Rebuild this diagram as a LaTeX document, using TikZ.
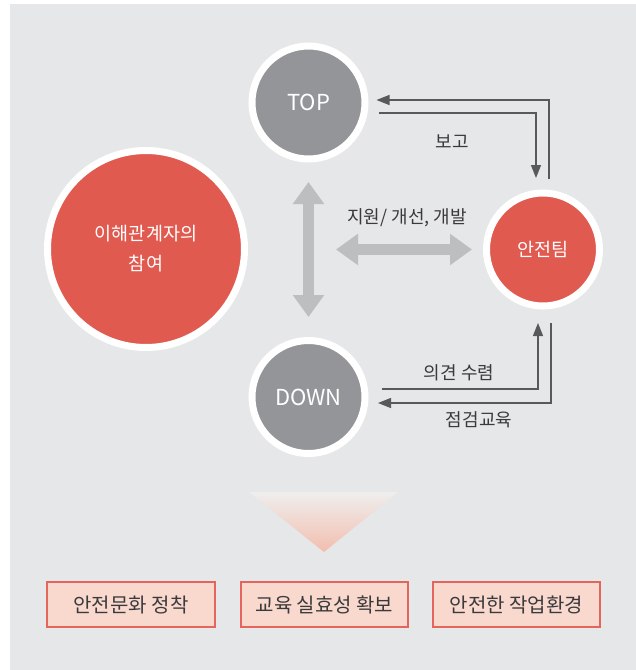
\documentclass[tikz,border=0pt]{standalone}
\usepackage{fontspec}
\setmainfont{Noto Sans CJK KR}
\usetikzlibrary{arrows.meta}
\definecolor{bggray}{HTML}{E6E7E8}
\definecolor{circgray}{HTML}{939598}
\definecolor{circred}{HTML}{E05A50}
\definecolor{arrgray}{HTML}{58595B}
\definecolor{biggray}{HTML}{BCBEC0}
\definecolor{txtdark}{HTML}{3A3A3C}
\definecolor{boxfill}{HTML}{F9D8CE}
\definecolor{boxline}{HTML}{E3655B}
\definecolor{tritop}{HTML}{EFEEEE}
\definecolor{tribot}{HTML}{F2BEAE}
\tikzset{
  ringgray/.style={circle, fill=circgray, draw=white, line width=7pt, minimum size=113pt, inner sep=0pt, outer sep=0pt, text=white, font=\fontsize{22}{24}\selectfont},
  ringred/.style={circle, fill=circred, draw=white, line width=7pt, minimum size=113pt, inner sep=0pt, outer sep=0pt, text=white, font=\fontsize{18.5}{21}\selectfont},
  bigred/.style={circle, fill=circred, draw=white, line width=7pt, minimum size=197pt, inner sep=0pt, outer sep=0pt, text=white, align=center, font=\fontsize{18.5}{30}\selectfont},
  conn/.style={draw=arrgray, line width=1.3pt, -{Triangle[length=13pt,width=10pt]}},
  bigarrow/.style={draw=biggray, line width=10.5pt, {Triangle[length=22pt,width=30pt]}-{Triangle[length=22pt,width=30pt]}},
  lbl/.style={text=txtdark, font=\fontsize{18}{20}\selectfont, inner sep=0pt},
  resultbox/.style={rectangle, fill=boxfill, draw=boxline, line width=1.3pt, minimum width=168pt, minimum height=45pt, inner sep=0pt, text=txtdark, font=\fontsize{20}{22}\selectfont}
}
\begin{document}
\begin{tikzpicture}[x=1pt,y=-1pt]
\useasboundingbox (0,0) rectangle (636,670);
\fill[white] (0,0) rectangle (636,670);
\fill[bggray] (10,4) rectangle (636,670);

\node[ringgray] (top) at (308.5,102.5) {TOP};
\node[ringgray] (down) at (308.5,397) {DOWN};
\node[ringred] (safe) at (543,249.5) {안전팀};
\node[bigred] (stake) at (146,249) {이해관계자의\\참여};

% report arrows
\draw[conn] ([shift={(6,-70.5)}]safe.center) |- ([shift={(68,-2.5)}]top.center);
\draw[conn] ([shift={(70.5,10.5)}]top.center) -| ([shift={(-7,-71.5)}]safe.center);
\node[lbl] (lreport) at (452,142) {보고};

% opinion / inspection arrows
\draw[conn] ([shift={(73.5,-8)}]down.center) -| ([shift={(-5,73.5)}]safe.center);
\draw[conn] ([shift={(8,73.5)}]safe.center) |- ([shift={(69.5,6)}]down.center);
\node[lbl] (lopinion) at (459,373) {의견 수렴};
\node[lbl] (linspect) at (479,420) {점검교육};

% big gray arrows
\draw[bigarrow] ([shift={(0,79.5)}]top.center) -- ([shift={(0,-80)}]down.center);
\draw[bigarrow] ([shift={(-207,0)}]safe.center) -- ([shift={(-71,0)}]safe.center);
\node[lbl] (lsupport) at (407,218) {지원/ 개선, 개발};

% gradient triangle
\shade[top color=tritop, bottom color=tribot] (249,492) -- (398,492) -- (324,552) -- cycle;

% result boxes
\node[resultbox] (r1) at (131,604.5) {안전문화 정착};
\node[resultbox, minimum width=167pt] (r2) at (324.5,604.5) {교육 실효성 확보};
\node[resultbox, minimum width=167pt] (r3) at (516.5,604.5) {안전한 작업환경};
\end{tikzpicture}
\end{document}
